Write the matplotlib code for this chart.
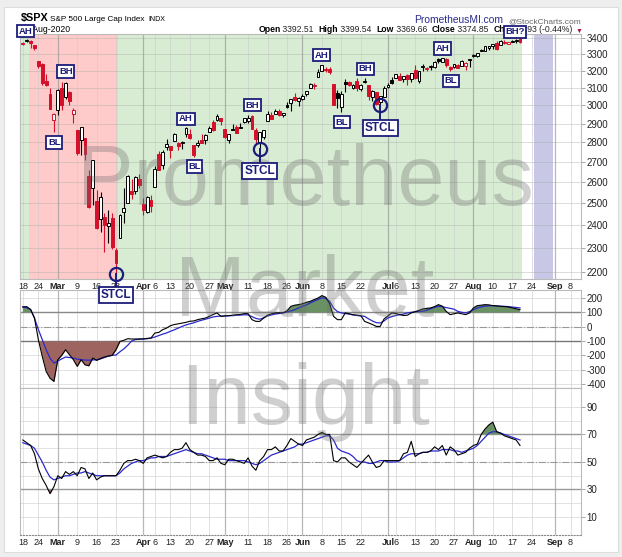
import matplotlib
matplotlib.use("Agg")
import matplotlib.pyplot as plt
from matplotlib.lines import Line2D

plt.rcParams['font.family'] = ['Liberation Sans', 'DejaVu Sans']

W, H = 622, 557

# daily OHLC, 18-Feb-2020 .. 19-Aug-2020 (trading days)
opens = [3369.0, 3380.4, 3380.5, 3360.5, 3257.6, 3238.9, 3139.9, 3062.5, 2916.9,
         2974.3, 3096.5, 3045.8, 3075.7, 2954.2, 2863.9, 2813.5, 2825.6, 2630.9, 2570.0,
         2508.6, 2425.7, 2436.5, 2393.5, 2431.9, 2290.7, 2344.4, 2457.8, 2501.3, 2555.9,
         2558.9, 2614.7, 2498.1, 2458.5, 2514.9, 2578.3, 2738.7, 2685.0, 2776.0, 2782.5,
         2805.1, 2795.6, 2799.3, 2842.4, 2845.6, 2784.8, 2787.9, 2810.4, 2812.6, 2854.7,
         2909.0, 2918.5, 2930.9, 2869.1, 2815.0, 2868.9, 2883.1, 2878.3, 2908.8, 2915.5,
         2939.5, 2865.9, 2794.5, 2829.9, 2913.9, 2948.6, 2953.6, 2969.9, 2948.1, 3004.1,
         3015.7, 3046.6, 3025.2, 3038.8, 3064.2, 3098.9, 3111.6, 3163.8, 3199.9, 3213.3,
         3213.4, 3123.5, 3071.0, 2993.8, 3131.0, 3136.1, 3101.6, 3140.3, 3094.4, 3138.7,
         3114.4, 3046.6, 3073.2, 3018.6, 3050.2, 3105.9, 3143.6, 3155.3, 3166.4, 3153.1,
         3176.2, 3152.5, 3205.1, 3141.1, 3225.9, 3208.4, 3224.2, 3224.3, 3268.5, 3254.9,
         3271.6, 3218.6, 3219.8, 3234.3, 3227.2, 3231.8, 3270.5, 3288.3, 3289.9, 3317.4,
         3323.2, 3340.1, 3356.0, 3370.3, 3355.5, 3372.9, 3368.7, 3380.9, 3387.0, 3392.5]
highs = [3375.0, 3393.5, 3389.2, 3360.8, 3259.8, 3246.9, 3182.5, 3097.1, 2959.7,
         3091.0, 3136.7, 3131.0, 3083.0, 2985.9, 2863.9, 2882.6, 2825.6, 2661.0, 2711.3,
         2563.0, 2553.9, 2453.6, 2467.0, 2453.0, 2300.7, 2449.7, 2571.4, 2637.0, 2615.9,
         2631.8, 2641.4, 2522.8, 2533.2, 2538.2, 2676.9, 2756.9, 2760.8, 2818.6, 2782.5,
         2851.9, 2801.9, 2806.5, 2879.2, 2868.9, 2785.5, 2815.1, 2844.9, 2842.7, 2887.7,
         2921.2, 2954.9, 2930.9, 2869.1, 2844.2, 2898.2, 2891.1, 2901.9, 2932.2, 2944.3,
         2945.8, 2874.1, 2852.8, 2865.0, 2968.1, 2964.2, 2980.3, 2978.5, 2956.8, 3021.7,
         3036.3, 3068.7, 3049.2, 3062.2, 3081.1, 3130.9, 3128.9, 3211.7, 3233.1, 3222.7,
         3223.3, 3123.5, 3088.4, 3079.8, 3153.5, 3141.2, 3120.0, 3155.5, 3120.9, 3154.9,
         3115.0, 3086.3, 3073.7, 3053.9, 3111.5, 3128.4, 3165.8, 3182.6, 3184.2, 3171.8,
         3179.8, 3186.8, 3235.3, 3200.9, 3238.3, 3220.4, 3233.5, 3258.6, 3277.3, 3279.3,
         3279.9, 3227.3, 3241.4, 3243.7, 3264.7, 3250.9, 3272.2, 3302.7, 3306.8, 3330.8,
         3351.0, 3352.5, 3363.3, 3382.0, 3387.9, 3387.2, 3378.5, 3387.6, 3395.1, 3399.5]
lows = [3355.6, 3378.8, 3341.0, 3328.5, 3214.7, 3118.8, 3108.0, 2977.4, 2855.8,
        2945.2, 2976.6, 3034.4, 2999.8, 2901.5, 2734.4, 2734.0, 2707.2, 2478.9, 2492.4,
        2380.9, 2367.0, 2280.5, 2319.8, 2295.6, 2191.9, 2344.4, 2407.5, 2500.7, 2520.0,
        2545.3, 2571.2, 2447.5, 2455.8, 2459.7, 2574.6, 2657.7, 2663.3, 2762.4, 2721.2,
        2805.1, 2761.5, 2764.3, 2830.9, 2820.4, 2727.1, 2775.9, 2794.3, 2791.8, 2852.9,
        2860.7, 2912.2, 2892.5, 2821.6, 2797.9, 2863.6, 2847.7, 2876.5, 2902.9, 2903.4,
        2869.6, 2793.2, 2766.6, 2816.8, 2913.9, 2922.4, 2953.6, 2938.6, 2933.6, 2988.2,
        2969.8, 3023.4, 2998.6, 3031.5, 3051.6, 3097.4, 3090.4, 3163.8, 3196.0, 3193.1,
        3181.5, 2999.5, 2984.5, 2965.7, 3076.1, 3108.0, 3093.5, 3083.1, 3079.4, 3127.1,
        3032.1, 3024.0, 3004.6, 2999.7, 3047.8, 3101.2, 3124.5, 3155.3, 3142.9, 3136.5,
        3115.7, 3136.2, 3149.4, 3127.7, 3200.8, 3198.6, 3205.7, 3215.2, 3247.8, 3253.1,
        3222.7, 3200.1, 3214.3, 3216.2, 3227.2, 3204.1, 3220.3, 3284.5, 3286.4, 3317.4,
        3318.1, 3328.7, 3335.4, 3324.0, 3355.5, 3363.4, 3361.6, 3379.2, 3370.2, 3369.7]
closes = [3370.3, 3386.2, 3373.2, 3337.8, 3225.9, 3128.2, 3116.4, 2978.8, 2954.2,
          3090.2, 3003.4, 3130.1, 3023.9, 2972.4, 2746.6, 2882.2, 2741.4, 2480.6, 2711.0,
          2386.1, 2529.2, 2398.1, 2409.4, 2304.9, 2237.4, 2447.3, 2475.6, 2630.1, 2541.5,
          2626.7, 2584.6, 2470.5, 2526.9, 2488.7, 2663.7, 2659.4, 2750.0, 2789.8, 2761.6,
          2846.1, 2783.4, 2799.6, 2874.6, 2823.2, 2736.6, 2799.3, 2797.8, 2836.7, 2878.5,
          2863.4, 2939.5, 2912.4, 2830.7, 2842.7, 2868.4, 2848.4, 2881.2, 2929.8, 2930.3,
          2870.1, 2820.0, 2852.5, 2863.7, 2953.9, 2922.9, 2971.6, 2948.5, 2955.5, 2991.8,
          3036.1, 3029.7, 3044.3, 3055.7, 3080.8, 3122.9, 3112.4, 3193.9, 3232.4, 3207.2,
          3190.1, 3002.1, 3041.3, 3066.6, 3124.7, 3113.5, 3115.3, 3097.7, 3117.9, 3131.3,
          3050.3, 3083.8, 3009.1, 3053.2, 3100.3, 3115.9, 3130.0, 3179.7, 3145.3, 3169.9,
          3152.1, 3185.0, 3155.2, 3197.5, 3226.6, 3215.6, 3224.7, 3251.8, 3257.3, 3276.0,
          3235.7, 3215.6, 3239.4, 3218.4, 3258.4, 3246.2, 3271.1, 3294.6, 3306.5, 3327.8,
          3349.2, 3351.3, 3360.5, 3333.7, 3380.4, 3373.4, 3372.9, 3382.0, 3389.8, 3374.9]
prev_close0 = 3380.2

# upper oscillator (black) and its signal line (blue)
osc = [138, 140, 120, 60, -91, -207, -312, -360, -382, -231, -200, -161, -196, -230,
       -277, -231, -266, -273, -219, -235, -222, -212, -205, -200, -160, -103, -95, -84,
       -86, -86, -86, -85, -82, -79, -44, -40, -21, -10, 7, 15, 20, 25, 30, 38, 40, 49,
       55, 60, 72, 85, 96, 72, 75, 77, 80, 84, 86, 91, 91, 49, 37, 37, 60, 80, 90, 96,
       96, 97, 110, 142, 150, 154, 160, 170, 177, 189, 200, 217, 205, 160, 72, 49, 49,
       96, 90, 84, 80, 77, 37, 26, 15, 2, 2, 54, 75, 96, 92, 84, 78, 80, 96, 105, 114,
       124, 128, 131, 140, 154, 143, 107, 84, 90, 96, 90, 84, 96, 131, 147, 150, 154,
       152, 147, 145, 142, 140, 138, 131, 125, 119]
osc_sig = [138, 132, 120, 60, -20, -91, -160, -220, -254, -240, -225, -212, -215, -220,
           -226, -231, -233, -234, -232, -231, -225, -215, -205, -200, -198, -175, -155,
           -130, -100, -90, -87, -86, -84, -80, -72, -62, -52, -44, -32, -22, -10, 2, 12,
           20, 27, 37, 45, 52, 60, 68, 72, 74, 75, 76, 77, 79, 81, 83, 82, 70, 58, 52, 62,
           75, 82, 88, 92, 96, 102, 110, 118, 131, 142, 152, 166, 178, 190, 201, 198, 177,
           130, 105, 96, 92, 88, 82, 78, 75, 72, 55, 40, 28, 26, 40, 61, 70, 78, 84, 88,
           96, 100, 104, 106, 107, 115, 125, 135, 142, 140, 133, 128, 122, 107, 100, 96,
           105, 118, 131, 138, 143, 146, 147, 145, 143, 142, 140, 137, 134, 131]

# RSI (black) and its signal line (blue)
rsi = [66, 64, 62, 56, 45, 38, 33, 27, 32, 40, 38, 43, 41, 43, 40, 46, 45, 38, 42, 37,
       39, 40, 40, 40, 40, 44, 49, 51, 51, 52, 51, 49, 53, 54, 55, 54, 53, 54, 57, 59,
       59, 60, 64, 59, 57, 55, 55, 54, 51, 51, 53, 49, 48, 52, 52, 51, 50, 49, 53, 47,
       44, 51, 54, 59, 59, 61, 58, 58, 62, 67, 65, 63, 62, 66, 67, 68, 70, 71.5, 70, 70,
       51, 50, 53, 53, 50, 48, 46, 49, 52, 55, 50, 46, 47, 51, 51, 51, 51, 51, 56, 57,
       65, 54, 56, 57, 57, 58, 61, 59, 62, 55, 61, 59, 55, 56, 57, 60, 62, 63, 70, 74,
       77, 79, 72, 71, 69, 68, 67, 66, 62]
rsi_sig = [64, 63, 62, 60, 55, 50, 44, 39, 37, 38, 39, 40, 40, 41, 42, 42, 43, 42, 41,
           40, 40, 40, 40, 40, 40, 42, 45, 47, 49, 50, 51, 51, 52, 53, 53, 54, 54, 54, 55,
           56, 57, 58, 59, 58, 57, 56, 56, 55, 54, 53, 52, 52, 52, 51, 51, 51, 51, 51, 50,
           49, 48, 49, 51, 53, 55, 56, 57, 58, 59, 60, 61, 63, 63, 64, 65, 66, 67, 68, 69,
           69, 66, 60, 58, 57, 56, 54, 51, 50, 50, 49, 49, 50, 51, 51, 50, 50, 50, 51, 53,
           55, 56, 56, 56, 57, 57, 58, 58, 58, 59, 59, 59, 58, 58, 57, 58, 59, 60, 62, 65,
           68, 71, 72, 72, 71, 70, 69, 68, 67, 66]

tick_pos = [0, 4, 9, 14, 19, 24, 31, 34, 38, 43, 48, 52, 58, 63, 68, 72, 77, 82, 87,
            94, 96, 101, 106, 111, 116, 121, 126, 131, 137, 141]
tick_lab = ['18', '24', 'Mar', '9', '16', '23', 'Apr', '6', '13', '20', '27', 'May',
            '11', '18', '26', 'Jun', '8', '15', '22', 'Jul', '6', '13', '20', '27', 'Aug',
            '10', '17', '24', 'Sep', '8']
months = ['Mar', 'Apr', 'May', 'Jun', 'Jul', 'Aug', 'Sep']

# background regimes (trading-day index ranges)
zone_start = [-1, 1.5, 24.5, 131.5]
zone_end = [1.5, 24.5, 128.5, 136.5]
zone_color = ['#c5e2bf', '#ffb5b5', '#c5e2bf', '#b3b3da']
zone_hatch = ['#d8ecd3', '#ffcaca', '#d8ecd3', '#c8c8e6']

# signal tags: (day index, price, text)
tag_x = [0.6, 11.1, 8.1, 42.0, 44.2, 59.1, 76.8, 88.1, 82.1, 108.1, 110.2, 126.7]
tag_y = [3446, 3195, 2799, 2926, 2676, 3001, 3294, 3211, 2907, 3337, 3140, 3442]
tag_txt = ['AH', 'BH', 'BL', 'AH', 'BL', 'BH', 'AH', 'BH', 'BL', 'AH', 'BL', 'BH?']
stcl_x = [24, 61, 92]
stcl_box = [2106, 2655, 2876]

price_ticks = list(range(2200, 3500, 100))
osc_ticks = [200, 100, 0, -100, -200, -300, -400]
rsi_ticks = [90, 70, 50, 30, 10]

navy = '#1c1c7a'
red = '#d4102b'
fig = plt.figure(figsize=(W / 100, H / 100), dpi=100, facecolor='#eeeeee')
fig.patches.append(plt.Rectangle((4 / W, 1 - 552 / H), 614 / W, 545 / H,
                                 transform=fig.transFigure, fc='white',
                                 ec='#dddddd', lw=0.8, zorder=-10))


def rect(x0, y0, x1, y1):
    return [x0 / W, 1 - y1 / H, (x1 - x0) / W, (y1 - y0) / H]


ax = fig.add_axes(rect(20.5, 33.5, 581, 279))
ax2 = fig.add_axes(rect(20.5, 290, 581, 388))
ax3 = fig.add_axes(rect(20.5, 388, 581, 535))
xlim = (-0.6, 143.7)

plt.rcParams['hatch.linewidth'] = 0.6
for a in (ax, ax2, ax3):
    a.set_xlim(*xlim)
    a.yaxis.tick_right()
    a.tick_params(axis='y', length=3, width=0.6, color='#999999', labelsize=7,
                  pad=1, labelcolor='#222222')
    a.tick_params(axis='x', length=0, labelsize=6.5, pad=2, labelcolor='#222222')
    for s in a.spines.values():
        s.set_color('#bbbbbb')
        s.set_linewidth(0.8)
    for p, l in zip(tick_pos, tick_lab):
        month = l in months
        a.axvline(p, color='#999999' if month else '#cccccc',
                  lw=0.9 if month else 0.6, zorder=1, alpha=0.7)

# price panel
ax.set_yscale('log')
ax.set_ylim(2170.2, 3430.6)
for s, e, c, hc in zip(zone_start, zone_end, zone_color, zone_hatch):
    ax.axvspan(s, e, facecolor=c, edgecolor=hc, hatch='-' * 38, lw=0, zorder=0)
for v in price_ticks:
    ax.axhline(v, color='#9aa59a', lw=0.5, alpha=0.5, zorder=1)
ax.set_yticks(price_ticks)
ax.set_yticklabels([str(v) for v in price_ticks])
ax.yaxis.set_minor_locator(matplotlib.ticker.NullLocator())

prev = [prev_close0] + closes[:-1]
for i, (o, h, l, c, pc) in enumerate(zip(opens, highs, lows, closes, prev)):
    col = red if c < pc else 'black'
    ax.vlines(i, l, h, color=col, lw=0.8, zorder=3)
    lo, hi = min(o, c), max(o, c)
    if hi - lo < 5:
        lo, hi = lo - 2.5, hi + 2.5
    ax.bar(i, hi - lo, bottom=lo, width=0.74, color='white' if c > o else col,
           edgecolor=col, lw=0.7, zorder=4)

ax.set_xticks(tick_pos)
ax.set_xticklabels(tick_lab)
for t in ax.get_xticklabels():
    if t.get_text() in months:
        t.set_fontweight('bold')

# tags live on the figure so they sit above the watermark and the lower panels
tag_kw = dict(ha='center', va='center', color=navy, zorder=20, transform=ax.transData,
              fontweight='bold',
              bbox=dict(boxstyle='square,pad=0.18', fc='white', ec=navy, lw=1.3))
for x, y, t in zip(tag_x, tag_y, tag_txt):
    fig.text(x, y, t, fontsize=6.8, **tag_kw)
for x, yb in zip(stcl_x, stcl_box):
    fig.add_artist(Line2D([x, x], [lows[x], yb], color=navy, lw=1.4, zorder=18,
                          transform=ax.transData))
    fig.add_artist(Line2D([x], [lows[x]], marker='o', ms=9.5, mfc='none', mec=navy,
                          mew=1.6, ls='none', zorder=19, transform=ax.transData))
    fig.text(x, yb, 'STCL', fontsize=8.5, **tag_kw)

# upper oscillator panel
days = list(range(len(closes)))
ax2.set_ylim(-428, 256)
for v in osc_ticks:
    ax2.axhline(v, color='#dddddd', lw=0.6, zorder=0)
ax2.axhline(100, color='#888888', lw=1, zorder=1)
ax2.axhline(-100, color='#777777', lw=1, zorder=1)
ax2.axhline(0, color='#999999', lw=0.8, ls='-.', zorder=1)
ax2.fill_between(days, osc, 100, where=[v > 100 for v in osc], interpolate=True,
                 color='#6a9164', zorder=2, lw=0)
ax2.fill_between(days, osc, -100, where=[v < -100 for v in osc], interpolate=True,
                 color='#9e645f', zorder=2, lw=0)
ax2.plot(days, osc_sig, color='#2a2acc', lw=0.9, zorder=3)
ax2.plot(days, osc, color='black', lw=0.8, zorder=4)
ax2.set_yticks(osc_ticks)
ax2.set_yticklabels([str(v) for v in osc_ticks])
ax2.set_xticks([])
ax2.spines['bottom'].set_color('#888888')

# RSI panel
ax3.set_ylim(-3.1, 103.8)
for v in range(10, 100, 10):
    ax3.axhline(v, color='#dddddd', lw=0.6, zorder=0)
ax3.axhline(70, color='#999999', lw=1, zorder=1)
ax3.axhline(30, color='#999999', lw=1, zorder=1)
ax3.axhline(50, color='#999999', lw=0.8, ls='-.', zorder=1)
ax3.fill_between(days, rsi, 70, where=[v > 70 for v in rsi], interpolate=True,
                 color='#6a9164', zorder=2, lw=0)
ax3.fill_between(days, rsi, 30, where=[v < 30 for v in rsi], interpolate=True,
                 color='#9e645f', zorder=2, lw=0)
ax3.plot(days, rsi_sig, color='#2a2acc', lw=0.9, zorder=3)
ax3.plot(days, rsi, color='black', lw=0.8, zorder=4)
ax3.set_yticks(rsi_ticks)
ax3.set_yticklabels([str(v) for v in rsi_ticks])
ax3.set_xticks(tick_pos)
ax3.set_xticklabels(tick_lab)
for t in ax3.get_xticklabels():
    if t.get_text() in months:
        t.set_fontweight('bold')
ax3.spines['bottom'].set_linestyle(':')
ax3.spines['bottom'].set_color('#888888')

# watermark
for word, yb in (('Prometheus', 205), ('Market', 316), ('Insight', 424)):
    fig.text(305 / W, 1 - yb / H, word, fontsize=61, color='#6e6e6e', alpha=0.33,
             ha='center', va='baseline', zorder=10)

# header
fig.text(20.5 / W, 1 - 21 / H, '$SPX', fontsize=7.8, fontweight='bold', va='baseline')
fig.text(50 / W, 1 - 21 / H, 'S&P 500 Large Cap Index', fontsize=5.9, va='baseline')
fig.text(148 / W, 1 - 21 / H, 'INDX', fontsize=5, va='baseline')
fig.text(503 / W, 1 - 23 / H, 'PrometheusMI.com', fontsize=7.4, color='#2b2b8c',
         ha='right', va='baseline')
fig.text(581 / W, 1 - 23 / H, '@StockCharts.com', fontsize=6.0, color='#666666',
         ha='right', va='baseline')
fig.text(20.5 / W, 1 - 32.5 / H, '19-Aug-2020', fontsize=6.2, va='baseline')

pieces = [('Open', 'bold', 'black'), (' 3392.51  ', 'normal', '#222222'),
          ('High', 'bold', 'black'), (' 3399.54  ', 'normal', '#222222'),
          ('Low', 'bold', 'black'), (' 3369.66  ', 'normal', '#222222'),
          ('Close', 'bold', 'black'), (' 3374.85  ', 'normal', '#222222'),
          ('Chg', 'bold', 'black'), (' -14.93 (-0.44%) ', 'normal', '#222222'),
          ('\u25bc', 'normal', '#a01c3c')]
renderer = fig.canvas.get_renderer()
items = []
total = 0
for s, wgt, col in pieces:
    t = fig.text(0, 1 - 32.5 / H, s, fontsize=6.2 if s != '\u25bc' else 5,
                 fontweight=wgt, color=col, va='baseline')
    w = t.get_window_extent(renderer).width
    items.append((t, w))
    total += w
x = 582 - total
for t, w in items:
    t.set_x(x / W)
    x += w

fig.savefig('out.png', dpi=100, facecolor=fig.get_facecolor())
